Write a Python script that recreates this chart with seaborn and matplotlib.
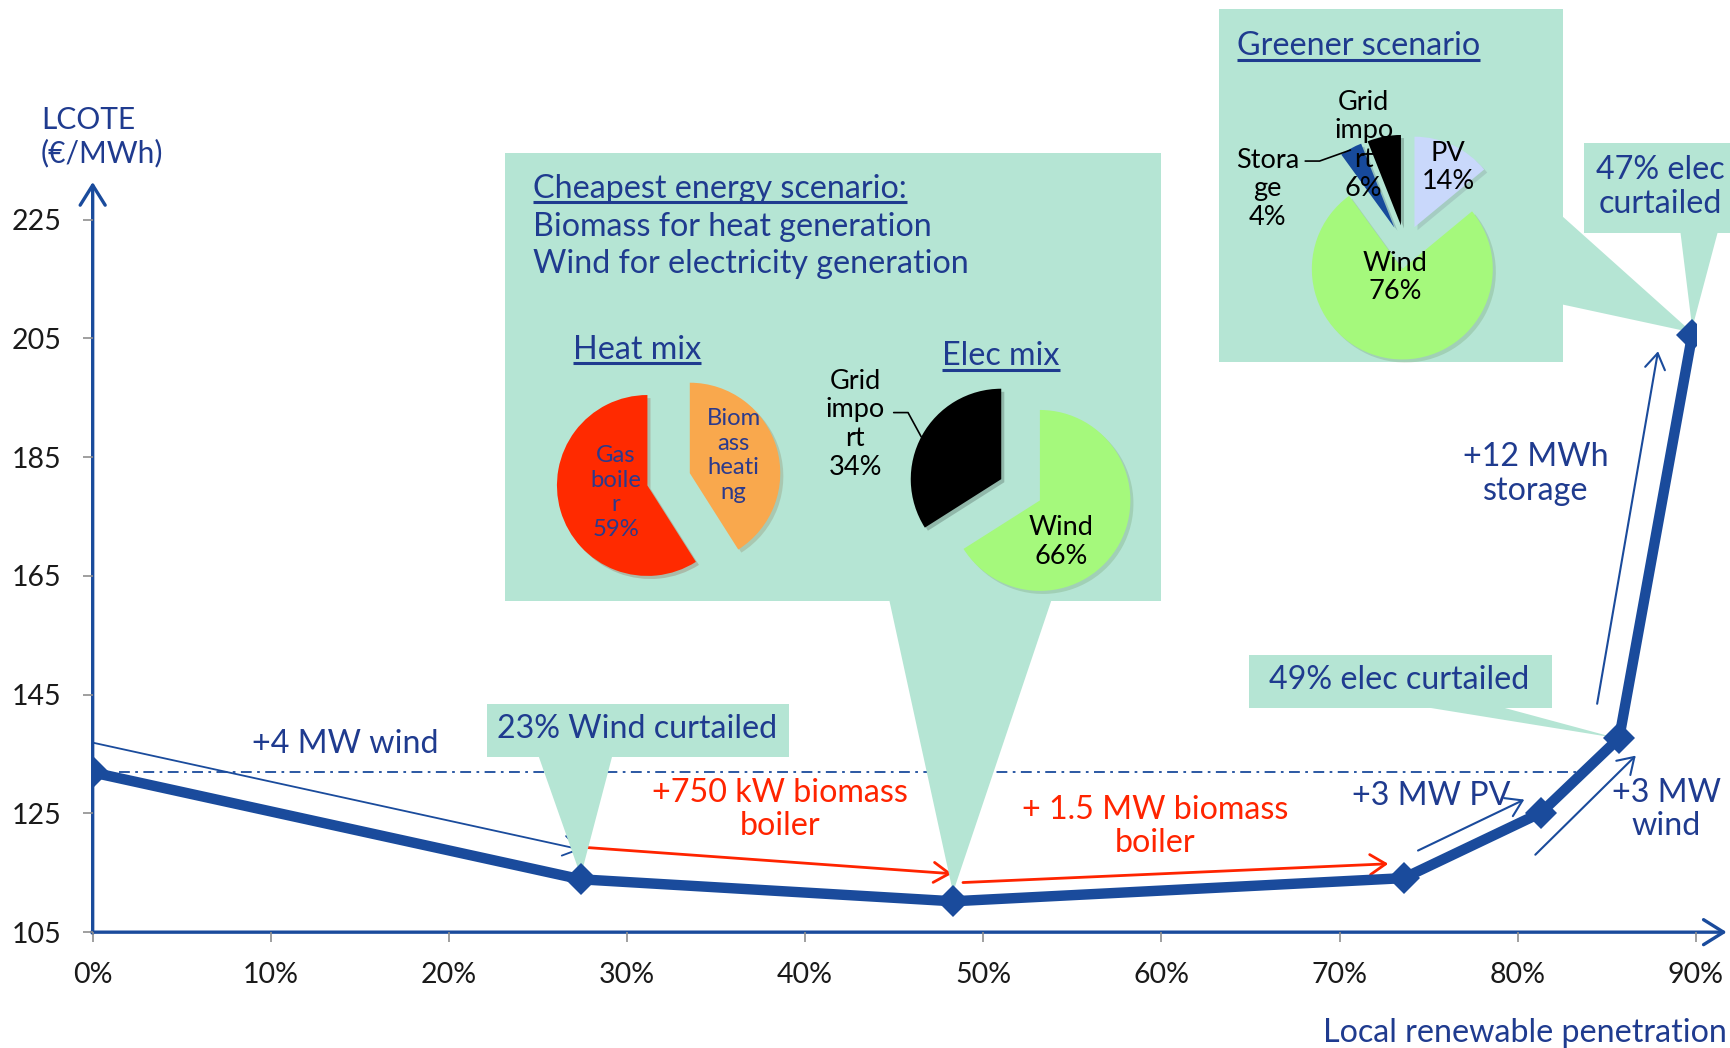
import numpy as np
import matplotlib
matplotlib.use("Agg")
import matplotlib.pyplot as plt
import seaborn as sns
from matplotlib.patches import Polygon, Rectangle, FancyArrowPatch

# ---- data -------------------------------------------------------------
penetration = [0.0, 27.4, 48.3, 73.6, 81.3, 85.7, 89.8]       # % local renewables
lcote = [131.9, 113.9, 110.2, 114.1, 125.1, 137.7, 205.6]      # EUR/MWh
x_ticks = [0, 10, 20, 30, 40, 50, 60, 70, 80, 90]
x_tick_labels = [f"{t}%" for t in x_ticks]
y_ticks = [105, 125, 145, 165, 185, 205, 225]

heat_share = [59, 41]            # gas boiler, biomass heating
heat_labels = ["Gas\nboile\nr\n59%", "Biom\nass\nheati\nng"]
elec_share = [34, 66]            # grid import, wind
elec_labels = ["Grid\nimpo\nrt\n34%", "Wind\n66%"]
green_share = [6, 4, 76, 14]     # grid import, storage, wind, PV
green_labels = ["Grid\nimpo\nrt\n6%", "Stora\nge\n4%", "Wind\n76%", "PV\n14%"]

step_labels = ["+4 MW wind", "+750 kW biomass\nboiler", "+ 1.5 MW biomass\nboiler",
               "+3 MW PV", "+3 MW\nwind", "+12 MWh\nstorage"]

# ---- style ------------------------------------------------------------
sns.set_theme(style="white")
plt.rcParams["font.family"] = ["Lato", "DejaVu Sans"]

BLUE = "#1a4b9c"
TXT = "#1f3b8f"
RED = "#ff2400"
MINT = "#b5e5d4"
DARK = "#1a1a1a"

fig = plt.figure(figsize=(17.30, 10.48), dpi=100)
W, H = 1568.0, 950.0
PX = 1730.0 / W


def rect(x0, y0, x1, y1):
    return [x0 / W, 1 - y1 / H, (x1 - x0) / W, (y1 - y0) / H]


def ls(pitch, size):
    return pitch * PX / (size * 100 / 72)


bg = fig.add_axes([0, 0, 1, 1], zorder=0)
fg = fig.add_axes([0, 0, 1, 1], zorder=2)
for o in (bg, fg):
    o.set_xlim(0, W)
    o.set_ylim(H, 0)
    o.axis("off")

ax = fig.add_axes(rect(84, 199, 1537, 845), zorder=3)
ax.patch.set_alpha(0)

# ---- main curve ---------------------------------------------------------
sns.lineplot(x=penetration, y=lcote, ax=ax, sort=False, estimator=None,
             color=BLUE, linewidth=7.5, marker="D", markersize=16,
             markeredgewidth=0)
ax.set_xlim(0, 90)
ax.set_ylim(105, 225)
ax.set_xticks(x_ticks)
ax.set_xticklabels(x_tick_labels)
ax.set_yticks(y_ticks)
for s in ax.spines.values():
    s.set_visible(False)
ax.tick_params(axis="both", which="both", bottom=True, left=True,
               direction="out", length=7.5, width=1.2, color="#8f8f8f",
               labelsize=20.5, labelcolor=DARK)
ax.tick_params(axis="y", pad=15)
ax.tick_params(axis="x", pad=14)
ax.set_xlabel("")
ax.set_ylabel("")


def to_px(x, y):
    return bg.transData.inverted().transform(ax.transData.transform((x, y)))


pts = [to_px(x, y) for x, y in zip(penetration, lcote)]
ox, oy = to_px(0, 105)

# axis arrows
arrow_axis = dict(arrowstyle="->,head_length=0.8,head_width=0.5",
                  mutation_scale=18, color=BLUE, lw=2.4, shrinkA=0, shrinkB=0)
bg.add_patch(FancyArrowPatch((ox, oy + 1), (ox, 165), **arrow_axis))
bg.add_patch(FancyArrowPatch((ox - 1, oy), (1565, oy), **arrow_axis))

# reference level: starting cost, up to where the curve climbs back to it
base = lcote[0]
x_cross = None
for i in range(1, len(lcote) - 1):
    if lcote[i] < base <= lcote[i + 1]:
        f = (base - lcote[i]) / (lcote[i + 1] - lcote[i])
        x_cross = penetration[i] + f * (penetration[i + 1] - penetration[i])
        break
xa, yb = to_px(1.5, base)
xb, _ = to_px(x_cross, base)
bg.plot([xa, xb], [yb, yb], color=BLUE, lw=1.3, ls=(0, (6, 3, 1.5, 3)))

# step arrows between consecutive scenarios
steps = [
    (0, 1, (0, -27), (0, -27), BLUE, 1.3),
    (1, 2, (3, -29), (-1, -25), RED, 2.0),
    (2, 3, (9, -17), (-14, -13), RED, 2.0),
    (3, 4, (13, -25), (-15, -12), BLUE, 1.5),
    (4, 5, (-5, 38), (15, 16), BLUE, 1.5),
    (5, 6, (-20, -31), (-31, 15), BLUE, 1.5),
]
for i, j, da, db, c, lw in steps:
    a = (pts[i][0] + da[0], pts[i][1] + da[1])
    b = (pts[j][0] + db[0], pts[j][1] + db[1])
    bg.add_patch(FancyArrowPatch(a, b, arrowstyle="->,head_length=0.7,head_width=0.45",
                                 mutation_scale=16, color=c, lw=lw,
                                 shrinkA=0, shrinkB=0))

# ---- callouts -----------------------------------------------------------
def callout(x0, y0, x1, y1, base_a, base_b, tip):
    bg.add_patch(Rectangle((x0, y0), x1 - x0, y1 - y0, facecolor=MINT,
                           edgecolor="none", zorder=3))
    bg.add_patch(Polygon([base_a, base_b, tip], closed=True, facecolor=MINT,
                         edgecolor="none", zorder=3))


callout(441, 638, 715, 686, (488, 685), (555, 685), (pts[1][0], pts[1][1] - 3))
callout(458, 139, 1052, 545, (806, 544), (953, 544), (pts[2][0], pts[2][1] - 8))
callout(1105, 8.5, 1417, 328.5, (1416, 196), (1416, 276), (pts[6][0], pts[6][1] - 2))
callout(1436, 130, 1575, 211, (1523, 210), (1557, 210), (pts[6][0], pts[6][1] - 6))
callout(1132, 594, 1407, 642, (1292, 641), (1361, 641), (pts[5][0] - 3, pts[5][1]))

# ---- pies -----------------------------------------------------------------
R = 82


def pie_at(cx, cy, shares, colors, half=125):
    pa = fig.add_axes(rect(cx - half, cy - half, cx + half, cy + half), zorder=1)
    pa.pie(shares, colors=colors, startangle=90, counterclock=True, radius=R,
           explode=[20] * len(shares), wedgeprops=dict(linewidth=0),
           shadow=dict(ox=2.0, oy=-2.0, shade=0.5, alpha=0.2))
    pa.set_xlim(-half, half)
    pa.set_ylim(-half, half)
    pa.set_aspect("auto")
    pa.axis("off")
    return pa


pie_at(606, 434.5, heat_share, ["#ff2a00", "#f9a84d"])
pie_at(925, 444, elec_share, ["#000000", "#a5f97c"])
pie_at(1273.5, 224, green_share, ["#000000", "#174a9b", "#a5f97c", "#c9d8fb"])

# pie labels
HS = 17.2
PS = 19.5
fg.text(558, 446.5, heat_labels[0], ha="center", va="center", fontsize=HS,
        color="#2b3a8c", linespacing=ls(26, HS))
fg.text(665, 413, heat_labels[1], ha="center", va="center", fontsize=HS,
        color="#2b3a8c", linespacing=ls(26, HS))
fg.text(775, 384.5, elec_labels[0], ha="center", va="center", fontsize=PS,
        color="black", linespacing=ls(29, PS))
fg.plot([810, 823, 835], [374, 374, 396], color="black", lw=1.2)
fg.text(962, 491.5, elec_labels[1], ha="center", va="center", fontsize=PS,
        color="black", linespacing=ls(29, PS))
fg.text(1236, 131.5, green_labels[0], ha="center", va="center", fontsize=PS,
        color="black", linespacing=ls(29, PS))
fg.text(1149, 171, green_labels[1], ha="center", va="center", fontsize=PS,
        color="black", linespacing=ls(29, PS))
fg.plot([1183, 1196, 1224], [146, 146, 136], color="black", lw=1.2)
fg.text(1264.5, 251.5, green_labels[2], ha="center", va="center", fontsize=PS,
        color="black", linespacing=ls(29, PS))
fg.text(1312.5, 152, green_labels[3], ha="center", va="center", fontsize=PS,
        color="black", linespacing=ls(29, PS))

# ---- texts ------------------------------------------------------------------
BIG = 23.2
underlined = []
underlined.append(fg.text(483.5, 179.5, "Cheapest energy scenario:", ha="left",
                          va="baseline", fontsize=BIG, color=TXT))
fg.text(483.5, 214, "Biomass for heat generation", ha="left", va="baseline",
        fontsize=BIG, color=TXT)
fg.text(483.5, 247.5, "Wind for electricity generation", ha="left", va="baseline",
        fontsize=BIG, color=TXT)
underlined.append(fg.text(519, 325, "Heat mix", ha="left", va="baseline",
                          fontsize=BIG, color=TXT))
underlined.append(fg.text(854, 331, "Elec mix", ha="left", va="baseline",
                          fontsize=BIG, color=TXT))
underlined.append(fg.text(1121.5, 50, "Greener scenario", ha="left", va="baseline",
                          fontsize=BIG, color=TXT))

fg.text(577, 661, "23% Wind curtailed", ha="center", va="center", fontsize=BIG, color=TXT)
fg.text(1268, 616, "49% elec curtailed", ha="center", va="center", fontsize=BIG, color=TXT)
fg.text(1505, 169.5, "47% elec\ncurtailed", ha="center", va="center", fontsize=BIG,
        color=TXT, linespacing=ls(33, BIG))

fg.text(313, 674, step_labels[0], ha="center", va="center", fontsize=BIG, color=TXT)
fg.text(707, 734, step_labels[1], ha="center", va="center", fontsize=BIG, color=RED,
        linespacing=ls(33, BIG))
fg.text(1047, 749, step_labels[2], ha="center", va="center", fontsize=BIG, color=RED,
        linespacing=ls(33, BIG))
fg.text(1297, 722, step_labels[3], ha="center", va="center", fontsize=BIG, color=TXT)
fg.text(1510, 734, step_labels[4], ha="center", va="center", fontsize=BIG, color=TXT,
        linespacing=ls(33, BIG))
fg.text(1392, 430, step_labels[5], ha="center", va="center", fontsize=BIG, color=TXT,
        linespacing=ls(34, BIG))

fg.text(37, 124, "LCOTE\n(€/MWh)", ha="left", va="center", fontsize=21.5, color=TXT,
        linespacing=ls(33, 21.5))
fg.text(1565, 936, "Local renewable penetration", ha="right", va="center",
        fontsize=BIG, color=TXT)

# underline the headings
fig.canvas.draw()
renderer = fig.canvas.get_renderer()
inv = fg.transData.inverted()
for t in underlined:
    bb = t.get_window_extent(renderer)
    (x0, _), (x1, _) = inv.transform([(bb.x0, bb.y0), (bb.x1, bb.y0)])
    yb = t.get_position()[1] + 4
    fg.plot([x0, x1], [yb, yb], color=TXT, lw=2.2, solid_capstyle="butt")

fig.savefig("out.png", dpi=100)
